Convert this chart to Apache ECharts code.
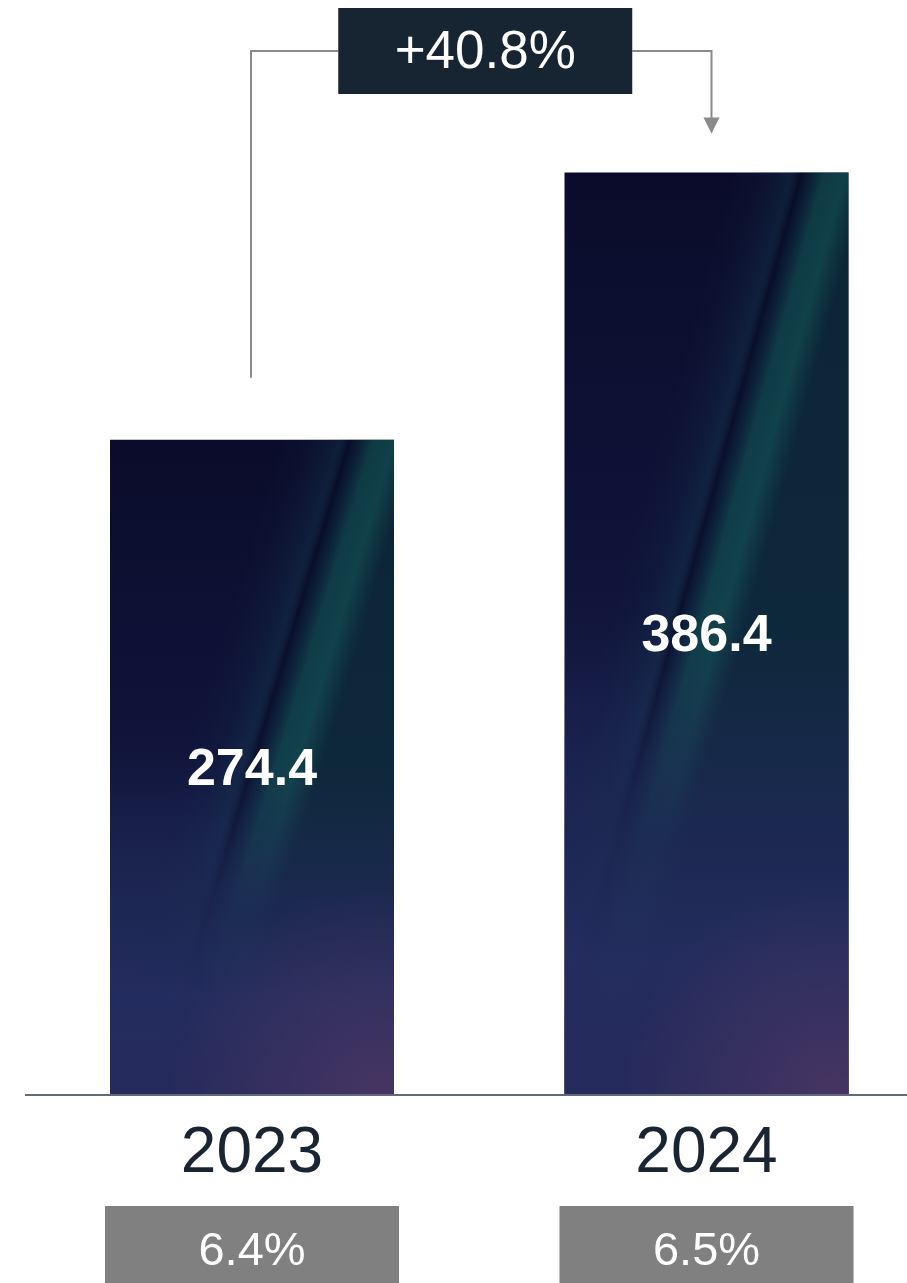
<!DOCTYPE html>
<html>
<head>
<meta charset="utf-8">
<script src="https://cdn.jsdelivr.net/npm/echarts@6/dist/echarts.min.js"></script>
<style>
html,body{margin:0;padding:0;background:#ffffff;}
#chart{width:907px;height:1283px;}
</style>
</head>
<body>
<div id="chart"></div>
<script>
const categories = ['2023', '2024'];
const values = [274.4, 386.4];
const shareLabels = ['6.4%', '6.5%'];

const FONT = 'Arial, "Liberation Sans", Helvetica, sans-serif';
const growth = (values[1] / values[0] - 1) * 100;
const growthLabel = '+' + growth.toFixed(1) + '%';

const chart = echarts.init(document.getElementById('chart'), null, {renderer: 'canvas'});

const baseGrad = {
  type: 'linear', x: 0, y: 0, x2: 0, y2: 1,
  colorStops: [
    {offset: 0, color: '#0b0c2b'},
    {offset: 0.45, color: '#10143a'},
    {offset: 0.72, color: '#1a2250'},
    {offset: 0.88, color: '#232b5e'},
    {offset: 1, color: '#282a5c'}
  ]
};
const tealStops = [
  {offset: 0, color: 'rgba(10,40,60,0)'},
  {offset: 0.55, color: 'rgba(10,40,60,0)'},
  {offset: 0.67, color: 'rgba(18,55,78,0.18)'},
  {offset: 0.74, color: 'rgba(22,70,88,0.3)'},
  {offset: 0.775, color: 'rgba(6,12,36,0.6)'},
  {offset: 0.80, color: 'rgba(10,40,58,0.5)'},
  {offset: 0.85, color: 'rgba(16,80,80,0.68)'},
  {offset: 0.92, color: 'rgba(18,84,82,0.72)'},
  {offset: 1, color: 'rgba(12,50,58,0.65)'}
];
// slant of the streak per bar (bar aspect differs)
const streakSlant = [0.13, 0.085];
const fadeGrad = {
  type: 'linear', x: 0, y: 0, x2: 0, y2: 1,
  colorStops: [
    {offset: 0, color: 'rgba(28,36,78,0)'},
    {offset: 0.5, color: 'rgba(28,36,78,0)'},
    {offset: 0.72, color: 'rgba(30,40,84,0.85)'},
    {offset: 0.85, color: 'rgba(35,44,94,0.97)'},
    {offset: 1, color: 'rgba(38,42,92,1)'}
  ]
};
const purpleGrad = {
  type: 'radial', x: 0.95, y: 1, r: 0.75,
  colorStops: [
    {offset: 0, color: 'rgba(80,56,100,0.75)'},
    {offset: 1, color: 'rgba(80,56,100,0)'}
  ]
};

const BAR_W = 284;
function layer(colorFn, withLabel) {
  return {
    type: 'bar',
    data: values.map((v, i) => ({value: v, itemStyle: {color: colorFn(i)}})),
    barWidth: BAR_W,
    barGap: '-100%',
    clip: false,
    silent: true,
    label: withLabel ? {
      show: true, position: 'inside', color: '#ffffff', offset: [0, 3],
      fontSize: 52, fontWeight: 'bold', fontFamily: FONT,
      formatter: p => p.value.toFixed(1)
    } : {show: false}
  };
}

chart.setOption({
  backgroundColor: '#ffffff',
  animation: false,
  grid: {left: 252, right: 907 - 252 - 454.5, top: 140, bottom: 188,
    containLabel: false, outerBoundsMode: 'none'},
  xAxis: [
    {
      type: 'category', data: categories, position: 'bottom', boundaryGap: false,
      axisLine: {show: false},
      axisTick: {show: false},
      axisLabel: {color: '#1a2533', fontSize: 64, fontFamily: FONT, margin: 27}
    },
    {
      type: 'category', data: categories, position: 'bottom', offset: 0, boundaryGap: false,
      axisLine: {show: false}, axisTick: {show: false},
      axisLabel: {
        margin: 115,
        formatter: (v, i) => '{b|' + shareLabels[i] + '}',
        rich: {
          b: {
            width: 294, height: 77, lineHeight: 77, align: 'center',
            backgroundColor: '#808080', color: '#ffffff',
            fontSize: 47, fontFamily: FONT, padding: [8, 0, 0, 0]
          }
        }
      }
    }
  ],
  yAxis: {type: 'value', min: 0, max: 400, show: false, splitLine: {show: false}},
  series: [
    layer(() => baseGrad, false),
    layer(i => ({type: 'linear', x: 0, y: 0, x2: 1, y2: streakSlant[i], colorStops: tealStops}), false),
    layer(() => fadeGrad, false),
    layer(() => purpleGrad, true)
  ]
});

function drawAnnotation() {
  const p0 = chart.convertToPixel({gridIndex: 0}, [0, values[0]]);
  const p1 = chart.convertToPixel({gridIndex: 0}, [1, values[1]]);
  const zeroY = chart.convertToPixel({gridIndex: 0}, [0, 0])[1];
  const boxW = 294, boxH = 86, boxTop = 8;
  const midX = (p0[0] + p1[0]) / 2 + 6;
  const boxL = midX - boxW / 2, boxR = midX + boxW / 2;
  const lineY = boxTop + boxH / 2;
  const leftStartY = p0[1] - 62;
  const arrowTip = p1[1] - 39;
  const lx = p0[0] - 1, rx = p1[0] + 5;
  chart.setOption({
    graphic: [
      {type: 'line', silent: true, z: 10, shape: {x1: 25, y1: zeroY, x2: 907, y2: zeroY},
        style: {stroke: '#5f6b78', lineWidth: 2}},
      {type: 'polyline', silent: true, shape: {points: [[lx, leftStartY], [lx, lineY], [boxL, lineY]]},
        style: {stroke: '#8a8a8a', lineWidth: 2, fill: null}},
      {type: 'polyline', silent: true, shape: {points: [[boxR, lineY], [rx, lineY], [rx, arrowTip - 14]]},
        style: {stroke: '#8a8a8a', lineWidth: 2, fill: null}},
      {type: 'polygon', silent: true, shape: {points: [[rx, arrowTip], [rx - 8, arrowTip - 16], [rx + 8, arrowTip - 16]]},
        style: {fill: '#8a8a8a'}},
      {type: 'rect', silent: true, shape: {x: boxL, y: boxTop, width: boxW, height: boxH},
        style: {fill: '#172533'}},
      {type: 'text', silent: true, x: midX, y: boxTop + boxH / 2 + 2,
        style: {text: growthLabel, fill: '#ffffff', fontSize: 53, fontFamily: FONT,
          align: 'center', verticalAlign: 'middle'}}
    ]
  });
}
drawAnnotation();
</script>
</body>
</html>
